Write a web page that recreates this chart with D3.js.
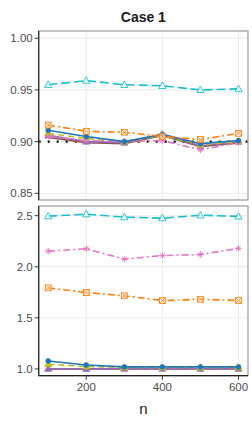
<!DOCTYPE html>
<html>
<head>
<meta charset="utf-8">
<script src="https://cdn.jsdelivr.net/npm/d3@7"></script>
<style>
  body { margin: 0; background: #fff; }
  text { font-family: "Liberation Sans", Arial, sans-serif; }
</style>
</head>
<body>
<div id="chart"></div>
<script>
// sample sizes
var nValues = [100, 200, 300, 400, 500, 600];

// coverage panel (top)
var covBlue   = [0.911, 0.905, 0.900, 0.907, 0.898, 0.901];
var covOrange = [0.916, 0.910, 0.909, 0.905, 0.902, 0.908];
var covCyan   = [0.955, 0.959, 0.955, 0.954, 0.950, 0.951];
var covPink   = [0.905, 0.901, 0.900, 0.901, 0.892, 0.899];
var covOlive  = [0.908, 0.903, 0.900, 0.906, 0.897, 0.900];
var covBrown  = [0.904, 0.899, 0.898, 0.906, 0.895, 0.899];
var covPurple = [0.906, 0.900, 0.899, 0.907, 0.896, 0.900];

// width panel (bottom)
var widBlue   = [1.078, 1.039, 1.020, 1.020, 1.020, 1.020];
var widOrange = [1.794, 1.748, 1.716, 1.670, 1.682, 1.670];
var widCyan   = [2.496, 2.515, 2.486, 2.476, 2.505, 2.493];
var widPink   = [2.153, 2.176, 2.075, 2.110, 2.120, 2.180];
var widOlive  = [1.046, 1.025, 1.015, 1.015, 1.015, 1.015];
var widBrown  = [1.000, 1.000, 1.000, 1.000, 1.000, 1.000];
var widPurple = [1.002, 1.002, 1.003, 1.003, 1.003, 1.003];

var topTicks = [0.85, 0.90, 0.95, 1.00];
var botTicks = [1.0, 1.5, 2.0, 2.5];
var xTicks = [200, 400, 600];

var width = 252, height = 424;
var left = 38.7, right = 248;

var svg = d3.select("#chart").append("svg")
  .attr("width", width).attr("height", height);

var xScale = d3.scaleLinear().domain([75, 625]).range([left, right]);

// style for each series: colour, dash, marker
var styles = {
  brown:  { color: "#8c564b", dash: null,       shape: null },
  purple: { color: "#9467bd", dash: null,       shape: "trifill" },
  olive:  { color: "#bcbd22", dash: "6,4",      shape: "trifill" },
  pink:   { color: "#e377c2", dash: "7,3,2,3",  shape: "star" },
  blue:   { color: "#1f77b4", dash: null,       shape: "circle" },
  orange: { color: "#ff7f0e", dash: "7,3,2,3",  shape: "sqx" },
  cyan:   { color: "#17becf", dash: "9,4",      shape: "tri" }
};

function drawPanel(top, bottom, domain, ticks, fmt, series, refLine, showX) {
  var y = d3.scaleLinear().domain(domain).range([bottom, top]);
  var g = svg.append("g");

  // grid
  g.selectAll(".hg").data(ticks).enter().append("line")
    .attr("x1", left).attr("x2", right)
    .attr("y1", function(d) { return y(d); }).attr("y2", function(d) { return y(d); })
    .attr("stroke", "#ebebeb").attr("stroke-width", 1);
  g.selectAll(".vg").data(xTicks).enter().append("line")
    .attr("y1", top).attr("y2", bottom)
    .attr("x1", function(d) { return xScale(d); }).attr("x2", function(d) { return xScale(d); })
    .attr("stroke", "#ebebeb").attr("stroke-width", 1);

  if (refLine != null) {
    g.append("line")
      .attr("x1", left).attr("x2", right)
      .attr("y1", y(refLine)).attr("y2", y(refLine))
      .attr("stroke", "#000").attr("stroke-width", 2.2)
      .attr("stroke-dasharray", "2,7");
  }

  var line = d3.line()
    .x(function(d, i) { return xScale(nValues[i]); })
    .y(function(d) { return y(d); });

  series.forEach(function(s) {
    var st = styles[s.key];
    g.append("path").datum(s.values)
      .attr("d", line)
      .attr("fill", "none")
      .attr("stroke", st.color)
      .attr("stroke-width", 1.6)
      .attr("stroke-dasharray", st.dash);
    s.values.forEach(function(v, i) {
      var cx = xScale(nValues[i]), cy = y(v);
      drawMarker(g, st.shape, cx, cy, st.color);
    });
  });

  // border
  g.append("rect")
    .attr("x", left).attr("y", top)
    .attr("width", right - left).attr("height", bottom - top)
    .attr("fill", "none").attr("stroke", "#999").attr("stroke-width", 1.2);
  g.append("line").attr("x1", left).attr("x2", left).attr("y1", top).attr("y2", bottom)
    .attr("stroke", "#222").attr("stroke-width", 1.2);
  if (showX) {
    g.append("line").attr("x1", left).attr("x2", right).attr("y1", bottom).attr("y2", bottom)
      .attr("stroke", "#222").attr("stroke-width", 1.2);
  }

  // y axis ticks
  ticks.forEach(function(t) {
    g.append("line").attr("x1", left - 4).attr("x2", left)
      .attr("y1", y(t)).attr("y2", y(t))
      .attr("stroke", "#333").attr("stroke-width", 1);
    g.append("text").attr("x", left - 6).attr("y", y(t) + 4)
      .attr("text-anchor", "end").attr("font-size", 11.5).attr("fill", "#4d4d4d")
      .text(fmt(t));
  });

  if (showX) {
    xTicks.forEach(function(t) {
      g.append("line").attr("x1", xScale(t)).attr("x2", xScale(t))
        .attr("y1", bottom).attr("y2", bottom + 4)
        .attr("stroke", "#333").attr("stroke-width", 1);
      g.append("text").attr("x", xScale(t)).attr("y", bottom + 15)
        .attr("text-anchor", "middle").attr("font-size", 11.5).attr("fill", "#4d4d4d")
        .text(t);
    });
  }
}

function drawMarker(g, shape, cx, cy, color) {
  if (shape === "circle") {
    g.append("circle").attr("cx", cx).attr("cy", cy).attr("r", 2.7).attr("fill", color);
  } else if (shape === "tri" || shape === "trifill") {
    var r = shape === "tri" ? 3.8 : 3.6;
    var pts = [[cx, cy - r], [cx - r * 0.95, cy + r * 0.7], [cx + r * 0.95, cy + r * 0.7]];
    g.append("polygon").attr("points", pts.join(" "))
      .attr("fill", shape === "tri" ? "#fff" : color)
      .attr("fill-opacity", shape === "tri" ? 0.6 : 1)
      .attr("stroke", color).attr("stroke-width", 0.9);
  } else if (shape === "sqx") {
    var h = 2.9;
    g.append("rect").attr("x", cx - h).attr("y", cy - h).attr("width", 2 * h).attr("height", 2 * h)
      .attr("fill", "#fff").attr("fill-opacity", 0.6).attr("stroke", color).attr("stroke-width", 0.9);
    g.append("path").attr("d", "M" + (cx - h) + "," + (cy - h) + "L" + (cx + h) + "," + (cy + h) +
      "M" + (cx - h) + "," + (cy + h) + "L" + (cx + h) + "," + (cy - h))
      .attr("stroke", color).attr("stroke-width", 0.8);
  } else if (shape === "star") {
    var s = 3.4, d = "";
    for (var k = 0; k < 4; k++) {
      var a = k * Math.PI / 4;
      d += "M" + (cx - s * Math.cos(a)) + "," + (cy - s * Math.sin(a)) +
           "L" + (cx + s * Math.cos(a)) + "," + (cy + s * Math.sin(a));
    }
    g.append("path").attr("d", d).attr("stroke", color).attr("stroke-width", 0.9);
  }
}

// title
svg.append("text").attr("x", (left + right) / 2).attr("y", 22)
  .attr("text-anchor", "middle").attr("font-size", 14).attr("font-weight", "bold")
  .attr("fill", "#1a1a1a").text("Case 1");

drawPanel(31, 200, [0.8435, 1.007], topTicks, d3.format(".2f"), [
  { key: "brown", values: covBrown },
  { key: "purple", values: covPurple },
  { key: "olive", values: covOlive },
  { key: "pink", values: covPink },
  { key: "blue", values: covBlue },
  { key: "orange", values: covOrange },
  { key: "cyan", values: covCyan }
], 0.90, false);

drawPanel(206, 375.7, [0.934, 2.595], botTicks, d3.format(".1f"), [
  { key: "brown", values: widBrown },
  { key: "purple", values: widPurple },
  { key: "olive", values: widOlive },
  { key: "blue", values: widBlue },
  { key: "pink", values: widPink },
  { key: "orange", values: widOrange },
  { key: "cyan", values: widCyan }
], null, true);

// x label
svg.append("text").attr("x", (left + right) / 2).attr("y", 414)
  .attr("text-anchor", "middle").attr("font-size", 15).attr("fill", "#1a1a1a").text("n");
</script>
</body>
</html>
